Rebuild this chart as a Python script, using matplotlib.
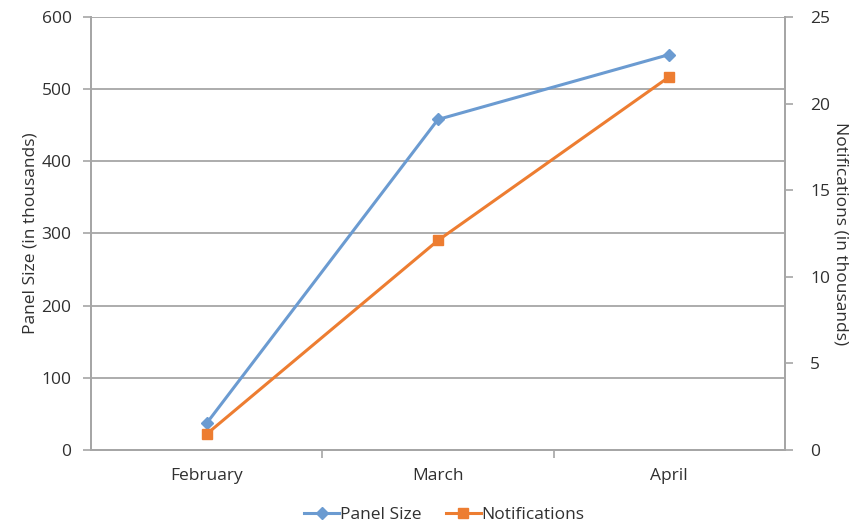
import matplotlib
matplotlib.use('Agg')
import matplotlib.pyplot as plt
from matplotlib.ticker import FixedLocator

months = ['February', 'March', 'April']
panel_size = [37, 458, 548]          # thousands
notifications = [0.92, 12.1, 21.55]  # thousands

plt.rcParams['font.family'] = ['Open Sans', 'DejaVu Sans']
grid_col = '#a6a6a6'
text_col = '#303030'
blue = '#6b9bd1'
orange = '#ed7d31'
fs = 12.5

fig = plt.figure(figsize=(8.63, 5.23), dpi=100)
ax = fig.add_axes([0.1054, 0.1396, 0.8042, 0.8279])
ax2 = ax.twinx()

x = [i + 0.5 for i in range(len(months))]
l1, = ax.plot(x, panel_size, color=blue, lw=2.2, marker='D', ms=6, label='Panel Size')
l2, = ax2.plot(x, notifications, color=orange, lw=2.2, marker='s', ms=7, label='Notifications')

ax.set_xlim(0, len(months))
ax.set_ylim(0, 600)
ax.set_yticks(range(0, 601, 100))
ax2.set_ylim(0, 25)
ax2.set_yticks(range(0, 26, 5))

ax.set_xticks(x)
ax.set_xticklabels(months)
ax.xaxis.set_minor_locator(FixedLocator([1, 2]))
ax.tick_params(axis='x', which='major', length=0, pad=13, labelsize=fs, colors=text_col)
ax.tick_params(axis='x', which='minor', length=6, color=grid_col, width=1.2)
ax.tick_params(axis='y', length=6, color=grid_col, width=1.2, labelsize=fs, colors=text_col, pad=8)
ax2.tick_params(axis='y', length=6, color=grid_col, width=1.2, labelsize=fs, colors=text_col, pad=12)

ax.grid(axis='y', color=grid_col, lw=1.3)
ax.set_axisbelow(True)
for a in (ax, ax2):
    a.spines['top'].set_visible(False)
    for s in ('left', 'right', 'bottom'):
        a.spines[s].set_color(grid_col)
        a.spines[s].set_linewidth(1.3)

ax.set_ylabel('Panel Size (in thousands)', fontsize=fs, color=text_col, labelpad=2)
ax2.set_ylabel('Notifications (in thousands)', fontsize=fs, color=text_col, rotation=270, labelpad=13)

fig.legend([l1, l2], ['Panel Size', 'Notifications'], loc='lower center',
           bbox_to_anchor=(0.515, -0.03), ncol=2, frameon=False, fontsize=fs,
           handlelength=2.0, handletextpad=0.05, columnspacing=1.4, labelcolor=text_col)

fig.savefig('out.png', dpi=100)
